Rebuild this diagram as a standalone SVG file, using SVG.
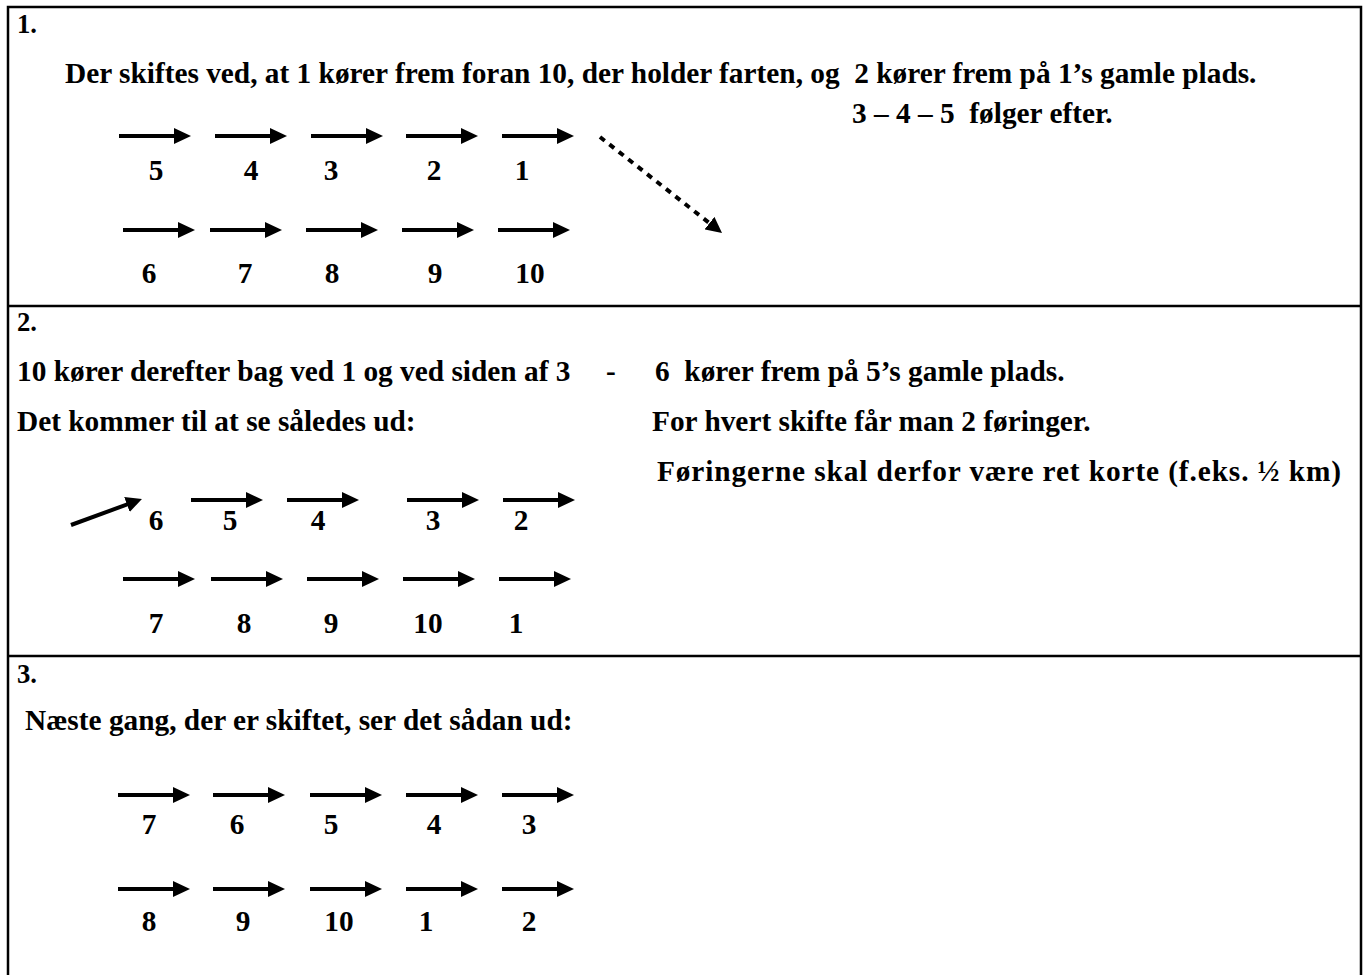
<svg xmlns="http://www.w3.org/2000/svg" xmlns:xlink="http://www.w3.org/1999/xlink" width="1364" height="975" viewBox="0 0 1364 975">
<style>
text{font-family:"Liberation Serif","Times New Roman",serif;font-weight:bold;font-size:29.33px;fill:#000;white-space:pre}
.lbl{font-size:26.7px}
.num{text-anchor:middle}
.frame{fill:none;stroke:#000;stroke-width:2.5}
.div{stroke:#000;stroke-width:2.5}
.shaft{stroke:#000;stroke-width:4;fill:none}
.dash{stroke:#000;stroke-width:4;fill:none;stroke-dasharray:6 6}
</style>
<defs>
<g id="arr"><path class="shaft" d="M0,0 H58"/><path d="M55,-8 L72,0 L55,8 Z" fill="#000"/></g>
<marker id="head" viewBox="0 0 16 16" refX="4" refY="8" markerWidth="16" markerHeight="16" markerUnits="userSpaceOnUse" orient="auto"><path d="M0,0 L16,8 L0,16 Z" fill="#000"/></marker>
</defs>
<rect width="1364" height="975" fill="#fff"/>
<g id="frame">
<rect class="frame" x="8" y="7" width="1353" height="1000"/>
<line class="div" x1="8" y1="306" x2="1361" y2="306"/>
<line class="div" x1="8" y1="656" x2="1361" y2="656"/>
</g>
<g id="section1">
<text class="lbl" x="17" y="33">1.</text>
<text x="65" y="83" xml:space="preserve">Der skiftes ved, at 1 kører frem foran 10, der holder farten, og  2 kører frem på 1’s gamle plads.</text>
<text x="852" y="123" xml:space="preserve">3 – 4 – 5  følger efter.</text>
<g id="s1-r5"><use xlink:href="#arr" x="119" y="136"/><text class="num" x="156" y="180">5</text></g>
<g id="s1-r4"><use xlink:href="#arr" x="215" y="136"/><text class="num" x="251" y="180">4</text></g>
<g id="s1-r3"><use xlink:href="#arr" x="311" y="136"/><text class="num" x="331" y="180">3</text></g>
<g id="s1-r2"><use xlink:href="#arr" x="406" y="136"/><text class="num" x="434" y="180">2</text></g>
<g id="s1-r1"><use xlink:href="#arr" x="502" y="136"/><text class="num" x="522" y="180">1</text></g>
<g id="s1-r6"><use xlink:href="#arr" x="123" y="230"/><text class="num" x="149" y="283">6</text></g>
<g id="s1-r7"><use xlink:href="#arr" x="210" y="230"/><text class="num" x="245" y="283">7</text></g>
<g id="s1-r8"><use xlink:href="#arr" x="306" y="230"/><text class="num" x="332" y="283">8</text></g>
<g id="s1-r9"><use xlink:href="#arr" x="402" y="230"/><text class="num" x="435" y="283">9</text></g>
<g id="s1-r10"><use xlink:href="#arr" x="498" y="230"/><text class="num" x="530" y="283">10</text></g>
</g>
<g id="section2">
<text class="lbl" x="17" y="331">2.</text>
<text x="17" y="381">10 kører derefter bag ved 1 og ved siden af 3</text>
<text x="606" y="381">-</text>
<text x="655" y="381" xml:space="preserve">6  kører frem på 5’s gamle plads.</text>
<text x="17" y="431">Det kommer til at se således ud:</text>
<text x="652" y="431">For hvert skifte får man 2 føringer.</text>
<text x="657" y="481" textLength="684">Føringerne skal derfor være ret korte (f.eks. ½ km)</text>
<g id="s2-r6"><text class="num" x="156" y="530">6</text></g>
<g id="s2-r5"><use xlink:href="#arr" x="191" y="500"/><text class="num" x="230" y="530">5</text></g>
<g id="s2-r4"><use xlink:href="#arr" x="287" y="500"/><text class="num" x="318" y="530">4</text></g>
<g id="s2-r3"><use xlink:href="#arr" x="407" y="500"/><text class="num" x="433" y="530">3</text></g>
<g id="s2-r2"><use xlink:href="#arr" x="503" y="500"/><text class="num" x="521" y="530">2</text></g>
<g id="s2-r7"><use xlink:href="#arr" x="123" y="579"/><text class="num" x="156" y="633">7</text></g>
<g id="s2-r8"><use xlink:href="#arr" x="211" y="579"/><text class="num" x="244" y="633">8</text></g>
<g id="s2-r9"><use xlink:href="#arr" x="307" y="579"/><text class="num" x="331" y="633">9</text></g>
<g id="s2-r10"><use xlink:href="#arr" x="403" y="579"/><text class="num" x="428" y="633">10</text></g>
<g id="s2-r1"><use xlink:href="#arr" x="499" y="579"/><text class="num" x="516" y="633">1</text></g>
</g>
<g id="section3">
<text class="lbl" x="17" y="683">3.</text>
<text x="25" y="730">Næste gang, der er skiftet, ser det sådan ud:</text>
<g id="s3-r7"><use xlink:href="#arr" x="118" y="795"/><text class="num" x="149" y="834">7</text></g>
<g id="s3-r6"><use xlink:href="#arr" x="213" y="795"/><text class="num" x="237" y="834">6</text></g>
<g id="s3-r5"><use xlink:href="#arr" x="310" y="795"/><text class="num" x="331" y="834">5</text></g>
<g id="s3-r4"><use xlink:href="#arr" x="406" y="795"/><text class="num" x="434" y="834">4</text></g>
<g id="s3-r3"><use xlink:href="#arr" x="502" y="795"/><text class="num" x="529" y="834">3</text></g>
<g id="s3-r8"><use xlink:href="#arr" x="118" y="889"/><text class="num" x="149" y="931">8</text></g>
<g id="s3-r9"><use xlink:href="#arr" x="213" y="889"/><text class="num" x="243" y="931">9</text></g>
<g id="s3-r10"><use xlink:href="#arr" x="310" y="889"/><text class="num" x="339" y="931">10</text></g>
<g id="s3-r1"><use xlink:href="#arr" x="406" y="889"/><text class="num" x="426" y="931">1</text></g>
<g id="s3-r2"><use xlink:href="#arr" x="502" y="889"/><text class="num" x="529" y="931">2</text></g>
</g>
<g id="connectors">
<line class="dash" x1="600" y1="137" x2="712.6" y2="225.6" marker-end="url(#head)"/>
<line class="shaft" x1="71" y1="525" x2="130.7" y2="503.1" marker-end="url(#head)"/>
</g>
</svg>
